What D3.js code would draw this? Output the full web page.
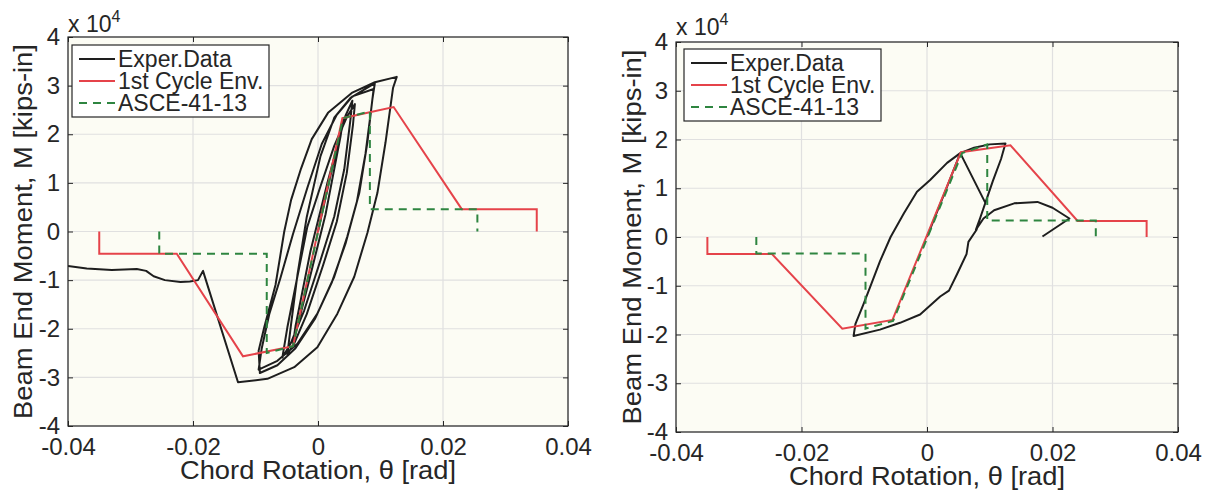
<!DOCTYPE html>
<html>
<head>
<meta charset="utf-8">
<script src="https://cdn.jsdelivr.net/npm/d3@7"></script>
<style>
  body { margin: 0; background: #fff; }
  svg text { font-family: "Liberation Sans", Arial, Helvetica, sans-serif; fill: #262626; }
</style>
</head>
<body>
<script>
const thetaTicks = [-0.04, -0.02, 0, 0.02, 0.04];
const thetaTickLabels = ["-0.04", "-0.02", "0", "0.02", "0.04"];
const momentTicks = [-4, -3, -2, -1, 0, 1, 2, 3, 4];
const momentTickLabels = ["-4", "-3", "-2", "-1", "0", "1", "2", "3", "4"];
const seriesNames = ["Exper.Data", "1st Cycle Env.", "ASCE-41-13"];
const xLabel = "Chord Rotation, θ [rad]";
const yLabel = "Beam End Moment, M [kips-in]";

// [rotation (rad), moment (x10^4 kips-in)]
const leftExper = [
  [0, 0], [0.0020, 1.15], [0.0040, 2.30], [0.0036, 1.95], [0.0012, 0.35], [-0.0015, -1.05],
  [-0.0040, -2.30], [-0.0036, -1.95], [-0.0012, -0.40], [0.0015, 1.00],
  [0.0044, 2.38], [0.0055, 2.69],
  [0.0052, 2.31], [0.0042, 1.28], [0.0026, 0.31], [0.0004, -0.59], [-0.0022, -1.62], [-0.0044, -2.31], [-0.0057, -2.59],
  [-0.0049, -1.97], [-0.0033, -0.93], [-0.0017, 0.10], [0.0004, 0.93], [0.0026, 1.76], [0.0046, 2.35], [0.0059, 2.62],
  [0.0056, 2.20], [0.0046, 1.20], [0.0030, 0.20], [0.0008, -0.70], [-0.0018, -1.70], [-0.0038, -2.30], [-0.0049, -2.52],
  [-0.0043, -1.90], [-0.0033, -0.90], [-0.0018, 0.30], [0.0004, 1.55], [0.0026, 2.34], [0.0052, 2.75], [0.0091, 3.05],
  [0.0087, 2.72], [0.0079, 1.83], [0.0066, 0.79], [0.0047, -0.10], [0.0026, -0.93], [-0.0001, -1.69], [-0.0033, -2.31], [-0.0065, -2.66], [-0.0095, -2.84],
  [-0.0090, -2.40], [-0.0078, -1.70], [-0.0060, -0.95], [-0.0040, -0.05], [-0.0017, 0.90], [0.0006, 1.80], [0.0030, 2.40], [0.0055, 2.78], [0.0089, 2.93],
  [0.0085, 2.50], [0.0076, 1.60], [0.0062, 0.60], [0.0044, -0.25], [0.0022, -1.05], [-0.0005, -1.80], [-0.0036, -2.40], [-0.0065, -2.75], [-0.0093, -2.91],
  [-0.0095, -2.45], [-0.0086, -1.97], [-0.0068, -1.10], [-0.0054, 0.00], [-0.0043, 0.65], [-0.0027, 1.30], [-0.0010, 1.90], [0.0016, 2.44], [0.0054, 2.85], [0.0091, 3.07], [0.0126, 3.18],
  [0.0120, 2.95], [0.0108, 1.83], [0.0095, 0.79], [0.0079, -0.03], [0.0058, -0.93], [0.0031, -1.69], [-0.0001, -2.38], [-0.0038, -2.79], [-0.0081, -3.03], [-0.0128, -3.10],
  [-0.0184, -0.81], [-0.0192, -1.00], [-0.0205, -1.03], [-0.0220, -1.04], [-0.0245, -1.00], [-0.0263, -0.92], [-0.0275, -0.81],
  [-0.0290, -0.77], [-0.0330, -0.79], [-0.0370, -0.76], [-0.0400, -0.71]
];
const leftEnv = [
  [-0.035, 0], [-0.035, -0.457], [-0.0226, -0.457], [-0.0120, -2.567], [-0.0040, -2.36],
  [0.0039, 2.33], [0.0121, 2.56], [0.0230, 0.46], [0.0350, 0.46], [0.0350, 0]
];
const leftAsce = [
  [-0.0254, 0], [-0.0254, -0.457], [-0.0082, -0.457], [-0.0082, -2.50], [-0.0040, -2.36],
  [0.0040, 2.33], [0.0083, 2.47], [0.0083, 0.46], [0.0255, 0.46], [0.0255, 0]
];

const rightExper = [
  [0, 0], [0.0027, 0.87], [0.0053, 1.72],
  [0.0093, 0.70], [0.0085, 0.40], [0.0079, 0.15], [0.0066, -0.10], [0.0063, -0.35], [0.0048, -0.76], [0.0035, -1.10],
  [0.0021, -1.22], [-0.0011, -1.59], [-0.0043, -1.76], [-0.0075, -1.90], [-0.0117, -2.03],
  [-0.0114, -1.78], [-0.0101, -1.37], [-0.0089, -0.97], [-0.0075, -0.50], [-0.0058, 0.00], [-0.0037, 0.48],
  [-0.0016, 0.93], [0.0005, 1.17], [0.0032, 1.52], [0.0053, 1.72],
  [0.0075, 1.83], [0.0100, 1.90], [0.0125, 1.92],
  [0.0118, 1.60], [0.0105, 1.15], [0.0093, 0.70], [0.0085, 0.40], [0.0078, 0.15],
  [0.0090, 0.38], [0.0107, 0.55], [0.0139, 0.69], [0.0176, 0.72], [0.0200, 0.60], [0.0227, 0.38], [0.0184, 0.01]
];
const rightEnv = [
  [-0.035, 0], [-0.035, -0.35], [-0.0247, -0.35], [-0.0135, -1.88], [-0.0055, -1.70],
  [0.0054, 1.74], [0.0133, 1.88], [0.0240, 0.33], [0.0350, 0.33], [0.0350, 0]
];
const rightAsce = [
  [-0.0272, 0], [-0.0272, -0.34], [-0.0098, -0.34], [-0.0098, -1.88], [-0.0054, -1.72],
  [0.0056, 1.72], [0.0096, 1.90], [0.0096, 0.34], [0.0269, 0.34], [0.0269, 0]
];

const colors = ["#1e1e1e", "#e5434a", "#2e8540"];

const svg = d3.select("body").append("svg")
    .attr("width", 1209)
    .attr("height", 491);

const panels = [
  { series: [leftExper, leftEnv, leftAsce], x0: 68, x1: 568, y0: 37, y1: 426, legX: 72, legY: 45, xLabY: 479, yLabX: 32, mulY: 32 },
  { series: [rightExper, rightEnv, rightAsce], x0: 676, x1: 1178, y0: 42, y1: 432, legX: 684, legY: 49, xLabY: 485, yLabX: 641, mulY: 35 }
];

panels.forEach((p, pi) => {
  const x = d3.scaleLinear().domain([-0.04, 0.04]).range([p.x0, p.x1]);
  const y = d3.scaleLinear().domain([-4, 4]).range([p.y1, p.y0]);
  const g = svg.append("g");

  // plot background
  g.append("rect")
      .attr("x", p.x0).attr("y", p.y0)
      .attr("width", p.x1 - p.x0).attr("height", p.y1 - p.y0)
      .attr("fill", "#fcfcf4");

  // grid
  g.selectAll(".vgrid").data(thetaTicks).enter().append("line")
      .attr("x1", d => x(d)).attr("x2", d => x(d))
      .attr("y1", p.y0).attr("y2", p.y1)
      .attr("stroke", "#e0e0e0").attr("stroke-width", 1.2);
  g.selectAll(".hgrid").data(momentTicks).enter().append("line")
      .attr("x1", p.x0).attr("x2", p.x1)
      .attr("y1", d => y(d)).attr("y2", d => y(d))
      .attr("stroke", "#e0e0e0").attr("stroke-width", 1.2);

  // data
  const clipId = "clip" + pi;
  g.append("clipPath").attr("id", clipId).append("rect")
      .attr("x", p.x0).attr("y", p.y0)
      .attr("width", p.x1 - p.x0).attr("height", p.y1 - p.y0);

  const line = d3.line().x(d => x(d[0])).y(d => y(d[1]));
  const data = g.append("g").attr("clip-path", `url(#${clipId})`);
  data.append("path").datum(p.series[0])
      .attr("d", line).attr("fill", "none")
      .attr("stroke", colors[0]).attr("stroke-width", 2).attr("stroke-linejoin", "round");
  data.append("path").datum(p.series[1])
      .attr("d", line).attr("fill", "none")
      .attr("stroke", colors[1]).attr("stroke-width", 2);
  data.append("path").datum(p.series[2])
      .attr("d", line).attr("fill", "none")
      .attr("stroke", colors[2]).attr("stroke-width", 2).attr("stroke-dasharray", "8,6");

  // axes (ticks inside, box on)
  const xAxis = g.append("g").attr("transform", `translate(0,${p.y1})`)
      .call(d3.axisBottom(x).tickValues(thetaTicks)
          .tickFormat((d, i) => thetaTickLabels[i])
          .tickSizeInner(-5).tickSizeOuter(0).tickPadding(12));
  const yAxis = g.append("g").attr("transform", `translate(${p.x0},0)`)
      .call(d3.axisLeft(y).tickValues(momentTicks)
          .tickFormat((d, i) => momentTickLabels[i])
          .tickSizeInner(-5).tickSizeOuter(0).tickPadding(8));
  g.append("g").attr("transform", `translate(0,${p.y0})`)
      .call(d3.axisTop(x).tickValues(thetaTicks).tickFormat("").tickSizeInner(-5).tickSizeOuter(0));
  g.append("g").attr("transform", `translate(${p.x1},0)`)
      .call(d3.axisRight(y).tickValues(momentTicks).tickFormat("").tickSizeInner(-5).tickSizeOuter(0));
  g.selectAll(".domain").remove();
  g.selectAll(".tick line").attr("stroke", "#262626");
  xAxis.selectAll("text").style("font-size", "24px").attr("fill", "#262626");
  yAxis.selectAll("text").style("font-size", "24px").attr("fill", "#262626");

  g.append("rect")
      .attr("x", p.x0).attr("y", p.y0)
      .attr("width", p.x1 - p.x0).attr("height", p.y1 - p.y0)
      .attr("fill", "none").attr("stroke", "#262626").attr("stroke-width", 1.2);

  // exponent label
  const mul = g.append("text").attr("x", p.x0).attr("y", p.mulY).style("font-size", "23px");
  mul.append("tspan").text("x 10");
  mul.append("tspan").attr("dy", -10).style("font-size", "16px").text("4");

  // axis titles
  g.append("text")
      .attr("x", (p.x0 + p.x1) / 2).attr("y", p.xLabY)
      .attr("text-anchor", "middle")
      .attr("textLength", 276).attr("lengthAdjust", "spacingAndGlyphs")
      .style("font-size", "25px")
      .text(xLabel);
  g.append("text")
      .attr("transform", `translate(${p.yLabX},${(p.y0 + p.y1) / 2}) rotate(-90)`)
      .attr("text-anchor", "middle")
      .attr("textLength", 375).attr("lengthAdjust", "spacingAndGlyphs")
      .style("font-size", "26px")
      .text(yLabel);

  // legend
  const leg = g.append("g").attr("transform", `translate(${p.legX},${p.legY})`);
  leg.append("rect").attr("width", 197).attr("height", 72)
      .attr("fill", "#ffffff").attr("stroke", "#262626").attr("stroke-width", 1.2);
  const rowY = [14, 36, 58];
  seriesNames.forEach((name, i) => {
    leg.append("line")
        .attr("x1", 7).attr("x2", 43).attr("y1", rowY[i]).attr("y2", rowY[i])
        .attr("stroke", colors[i]).attr("stroke-width", 2)
        .attr("stroke-dasharray", i === 2 ? "8,6" : null);
    leg.append("text")
        .attr("x", 46).attr("y", rowY[i]).attr("dy", "0.36em")
        .style("font-size", "23px")
        .text(name);
  });
});
</script>
</body>
</html>
